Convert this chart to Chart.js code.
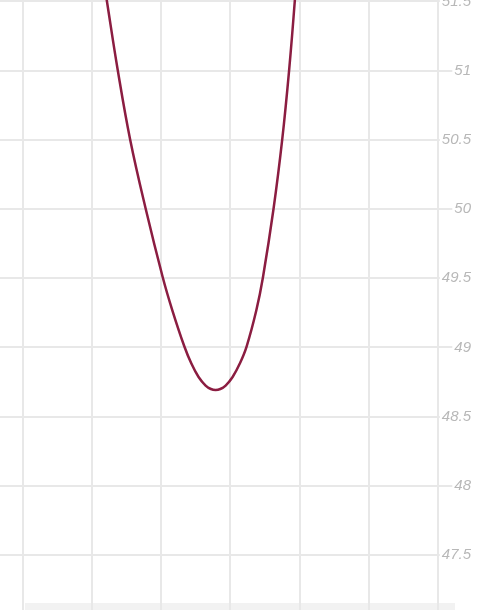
<!DOCTYPE html>
<html>
<head>
<meta charset="utf-8">
<script src="https://cdn.jsdelivr.net/npm/chart.js@4.4.0/dist/chart.umd.min.js"></script>
<style>
  html, body { margin: 0; padding: 0; background: #fff; overflow: hidden; }
  body { width: 480px; height: 610px; position: relative; }
  #myChart { position: absolute; left: -101px; top: -67.44px; z-index: 1; }
  #scrollbar { position: absolute; left: 25px; top: 603px; width: 430px; height: 7px; background: #f2f2f2; z-index: 0; }
</style>
</head>
<body>
<div id="scrollbar"></div>
<canvas id="myChart" width="572" height="739"></canvas>
<script>
// points (x, value)
var xValues = [1.059, 1.214, 1.373, 1.551, 1.775, 2.023, 2.162, 2.335, 2.436, 2.540, 2.642, 2.718, 2.786,
               2.854, 2.931, 3.032, 3.136, 3.234, 3.374, 3.470, 3.624, 3.749, 3.848, 3.931, 3.999];
var yValues = [52.006, 51.507, 51.001, 50.503, 50.004, 49.506, 49.267, 49.007, 48.884, 48.787, 48.725, 48.700, 48.693,
               48.700, 48.725, 48.787, 48.884, 49.007, 49.267, 49.506, 50.004, 50.503, 51.001, 51.507, 52.006];

// visible window of the scales
var xMin = -1.5, xMax = 6;
var yMin = 46.8, yMax = 51.85;

var points = xValues.map(function (x, i) { return { x: x, y: yValues[i] }; });

var gridColor = '#e8e8e8';

var ctx = document.getElementById('myChart').getContext('2d');

var myChart = new Chart(ctx, {
    type: 'line',
    data: {
      datasets: [{
        data: points,
        borderColor: '#8b1d41',
        borderWidth: 2.5,
        pointRadius: 0,
        fill: false,
        tension: 0.4
      }]
    },
    options: {
        responsive: false,
        animation: false,
        layout: { padding: { top: 20, left: 20, right: 0, bottom: 20 } },
        plugins: {
          legend: { display: false },
          tooltip: { enabled: false }
        },
        scales: {
          x: {
            type: 'linear',
            min: xMin,
            max: xMax,
            grid: { color: gridColor, lineWidth: 2, drawTicks: false },
            border: { display: false },
            ticks: { display: false, stepSize: 1, includeBounds: false },
            afterFit: function (scale) { scale.height = 0; }
          },
          y: {
            position: 'right',
            min: yMin,
            max: yMax,
            grid: { color: gridColor, lineWidth: 2, tickLength: 16 },
            border: { color: gridColor, width: 2 },
            ticks: {
              stepSize: 0.5,
              includeBounds: false,
              crossAlign: 'far',
              padding: 0,
              color: '#b8b8b8',
              font: { family: '"Liberation Sans", sans-serif', size: 15, style: 'italic' },
              showLabelBackdrop: true,
              backdropColor: '#ffffff',
              backdropPadding: 2,
              callback: function (value) { return String(value); }
            },
            // labels are right-aligned to this edge
            afterFit: function (scale) { scale.width = 33; }
          }
        }
      }
  });
</script>
</body>
</html>
